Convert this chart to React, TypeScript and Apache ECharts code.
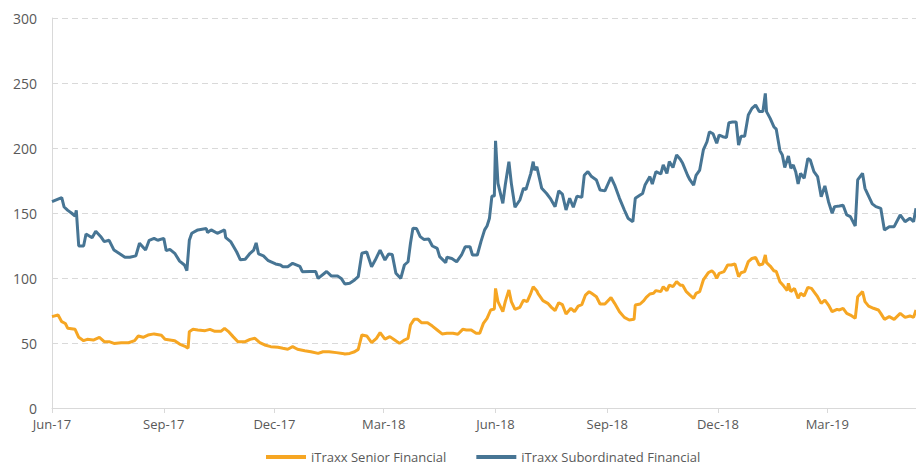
import React, { useEffect, useRef } from "react";
import * as echarts from "echarts";

const seniorName = "iTraxx Senior Financial";
const subName = "iTraxx Subordinated Financial";

const tickDates = ["2017-06-01", "2017-09-01", "2017-12-01", "2018-03-01", "2018-06-01", "2018-09-01", "2018-12-01", "2019-03-01"];
const axisStart = "2017-06-01";
const axisEnd = "2019-05-13";
const yTicks = [0, 50, 100, 150, 200, 250, 300];

const seniorDates = [
  "2017-06-01","2017-06-06","2017-06-09","2017-06-12","2017-06-14","2017-06-20","2017-06-23","2017-06-27","2017-06-30","2017-07-05",
  "2017-07-10","2017-07-14","2017-07-18","2017-07-22","2017-07-28","2017-08-03","2017-08-08","2017-08-11","2017-08-15","2017-08-19",
  "2017-08-24","2017-08-30","2017-09-02","2017-09-06","2017-09-10","2017-09-14","2017-09-19","2017-09-21","2017-09-22","2017-09-25",
  "2017-09-29","2017-10-05","2017-10-09","2017-10-13","2017-10-18","2017-10-21","2017-10-24","2017-10-28","2017-11-01","2017-11-07",
  "2017-11-11","2017-11-15","2017-11-19","2017-11-23","2017-11-28","2017-12-04","2017-12-08","2017-12-12","2017-12-16","2017-12-20",
  "2017-12-26","2017-12-31","2018-01-06","2018-01-10","2018-01-15","2018-01-21","2018-01-26","2018-01-28","2018-02-01","2018-02-05",
  "2018-02-08","2018-02-11","2018-02-15","2018-02-19","2018-02-23","2018-02-26","2018-03-02","2018-03-06","2018-03-10","2018-03-14",
  "2018-03-18","2018-03-21","2018-03-23","2018-03-26","2018-03-29","2018-04-01","2018-04-06","2018-04-10","2018-04-14","2018-04-18",
  "2018-04-22","2018-04-27","2018-05-01","2018-05-05","2018-05-08","2018-05-12","2018-05-16","2018-05-19","2018-05-22","2018-05-25",
  "2018-05-28","2018-05-31","2018-06-01","2018-06-03","2018-06-07","2018-06-09","2018-06-12","2018-06-14","2018-06-17","2018-06-21",
  "2018-06-24","2018-06-27","2018-06-30","2018-07-02","2018-07-05","2018-07-06","2018-07-10","2018-07-14","2018-07-17","2018-07-20",
  "2018-07-23","2018-07-26","2018-07-29","2018-08-02","2018-08-05","2018-08-08","2018-08-11","2018-08-14","2018-08-17","2018-08-19",
  "2018-08-23","2018-08-26","2018-08-30","2018-09-04","2018-09-07","2018-09-11","2018-09-15","2018-09-19","2018-09-23","2018-09-24",
  "2018-09-28","2018-10-01","2018-10-03","2018-10-06","2018-10-09","2018-10-11","2018-10-15","2018-10-17","2018-10-20","2018-10-22",
  "2018-10-25","2018-10-28","2018-10-31","2018-11-02","2018-11-05","2018-11-08","2018-11-11","2018-11-13","2018-11-16","2018-11-19",
  "2018-11-23","2018-11-26","2018-11-28","2018-11-30","2018-12-02","2018-12-06","2018-12-09","2018-12-12","2018-12-15","2018-12-18",
  "2018-12-20","2018-12-23","2018-12-26","2018-12-29","2019-01-01","2019-01-04","2019-01-07","2019-01-09","2019-01-10","2019-01-13",
  "2019-01-16","2019-01-18","2019-01-21","2019-01-24","2019-01-27","2019-01-28","2019-01-30","2019-02-02","2019-02-05","2019-02-07",
  "2019-02-10","2019-02-13","2019-02-16","2019-02-19","2019-02-21","2019-02-24","2019-02-27","2019-03-02","2019-03-05","2019-03-09",
  "2019-03-11","2019-03-14","2019-03-17","2019-03-20","2019-03-24","2019-03-26","2019-03-30","2019-04-01","2019-04-04","2019-04-08",
  "2019-04-12","2019-04-14","2019-04-17","2019-04-21","2019-04-25","2019-04-30","2019-05-04","2019-05-08","2019-05-11","2019-05-13"
];
const seniorValues = [
  70.3,71.5,66.4,65,61.3,60.5,54.4,51.8,52.8,52.3,
  54.4,51,51,49.7,50.2,50.2,51.8,55.4,54.4,56.1,
  57,56,52.8,52.3,51.8,49.2,47.2,46,58.7,60.5,
  60,59.5,60.5,59,59,61.3,59,54.9,51,51,
  52.8,53.6,50.3,48.5,47.2,46.7,45.9,45.2,47.2,45.2,
  44.1,43.3,42,43.3,43.3,42.6,42,41.5,42,43.3,
  45.1,56.2,55.4,50.3,53.6,58,53,54.9,52.3,49.7,
  52.3,53.6,63.8,68.2,68.2,65.6,65.6,63,60,57,
  57.5,57.5,56.7,60.5,60,60,57.5,57.5,65.1,69,
  75.4,76.2,92,81.8,74.1,81.8,90.8,81.8,75.9,77.4,
  83,81.8,88.2,93.3,90,88,82.6,80.5,77.4,75,
  81,79.5,72.3,76.7,74.1,78.4,79.5,86.9,89.5,88.2,
  85.6,80,80,84.9,80.5,74.1,69.7,67.7,68.2,79.2,
  80,82.6,85.1,87.7,88.2,90.3,89.5,93.3,90.3,94.5,
  93.3,97.2,94.5,94.5,89.5,86.9,84.4,88.2,89.5,98.5,
  104,105.6,103.6,99.7,103.6,104.9,110,110,110.8,101,
  104,104.9,112.6,115,115.8,110,110.8,117.7,111.8,109.2,
  105.6,105,97.2,94,90.3,95.9,89.5,92,84.4,88.2,
  86.2,92.8,92,88.2,85.6,80.5,83,79.2,74.1,75.9,
  75.4,76.7,72.8,71.5,69,85.6,89.5,81.8,78.4,76.7,
  75.4,72.8,68.2,70.3,68.2,72.8,69.7,70.8,69.7,75.4
];

const subDates = [
  "2017-06-01","2017-06-09","2017-06-11","2017-06-14","2017-06-17","2017-06-20","2017-06-21","2017-06-23","2017-06-27","2017-06-29",
  "2017-07-04","2017-07-07","2017-07-11","2017-07-14","2017-07-18","2017-07-22","2017-07-27","2017-07-31","2017-08-04","2017-08-09",
  "2017-08-12","2017-08-17","2017-08-20","2017-08-24","2017-08-27","2017-09-01","2017-09-03","2017-09-06","2017-09-10","2017-09-14",
  "2017-09-18","2017-09-20","2017-09-22","2017-09-24","2017-09-29","2017-10-06","2017-10-07","2017-10-10","2017-10-15","2017-10-21",
  "2017-10-22","2017-10-26","2017-10-31","2017-11-03","2017-11-07","2017-11-11","2017-11-14","2017-11-16","2017-11-18","2017-11-22",
  "2017-11-26","2017-12-02","2017-12-06","2017-12-08","2017-12-12","2017-12-16","2017-12-22","2017-12-24","2017-12-30","2018-01-04",
  "2018-01-06","2018-01-13","2018-01-17","2018-01-22","2018-01-25","2018-01-28","2018-02-01","2018-02-05","2018-02-08","2018-02-11",
  "2018-02-15","2018-02-19","2018-02-22","2018-02-26","2018-03-02","2018-03-05","2018-03-08","2018-03-11","2018-03-15","2018-03-18",
  "2018-03-21","2018-03-23","2018-03-25","2018-03-28","2018-03-31","2018-04-03","2018-04-07","2018-04-10","2018-04-14","2018-04-16",
  "2018-04-21","2018-04-22","2018-04-26","2018-04-30","2018-05-04","2018-05-07","2018-05-11","2018-05-13","2018-05-17","2018-05-20",
  "2018-05-23","2018-05-25","2018-05-27","2018-05-29","2018-05-31","2018-06-01","2018-06-03","2018-06-07","2018-06-09","2018-06-12",
  "2018-06-14","2018-06-17","2018-06-21","2018-06-24","2018-06-26","2018-06-30","2018-07-02","2018-07-03","2018-07-05","2018-07-09",
  "2018-07-13","2018-07-16","2018-07-20","2018-07-23","2018-07-26","2018-07-29","2018-08-01","2018-08-04","2018-08-07","2018-08-11",
  "2018-08-13","2018-08-16","2018-08-19","2018-08-23","2018-08-26","2018-08-30","2018-09-04","2018-09-07","2018-09-11","2018-09-15",
  "2018-09-18","2018-09-22","2018-09-24","2018-09-28","2018-09-30","2018-10-02","2018-10-06","2018-10-08","2018-10-11","2018-10-15",
  "2018-10-17","2018-10-20","2018-10-22","2018-10-25","2018-10-28","2018-10-31","2018-11-02","2018-11-06","2018-11-08","2018-11-11",
  "2018-11-13","2018-11-16","2018-11-19","2018-11-22","2018-11-24","2018-11-27","2018-11-30","2018-12-02","2018-12-05","2018-12-08",
  "2018-12-10","2018-12-13","2018-12-16","2018-12-18","2018-12-20","2018-12-23","2018-12-26","2018-12-29","2019-01-01","2019-01-04",
  "2019-01-07","2019-01-09","2019-01-10","2019-01-13","2019-01-16","2019-01-18","2019-01-21","2019-01-23","2019-01-25","2019-01-28",
  "2019-01-30","2019-02-01","2019-02-03","2019-02-05","2019-02-07","2019-02-10","2019-02-13","2019-02-15","2019-02-18","2019-02-21",
  "2019-02-24","2019-02-27","2019-03-02","2019-03-05","2019-03-07","2019-03-11","2019-03-14","2019-03-17","2019-03-20","2019-03-24",
  "2019-03-26","2019-03-30","2019-04-01","2019-04-04","2019-04-07","2019-04-10","2019-04-14","2019-04-17","2019-04-21","2019-04-25",
  "2019-04-30","2019-05-04","2019-05-08","2019-05-11","2019-05-13"
];
const subValues = [
  158.7,161.8,154.6,152,150,147.7,152,124.6,124.6,133.8,
  131,136,132,128,129,121.5,118.5,116,116,117,
  126.7,121.5,129,130.5,129,130.5,121,122,119,113,
  110,105.6,129,134.4,137,138,135,137,134.4,137,
  131,128,120,114,114.4,119,121.5,127,118.5,117,
  113.3,110.8,110,108.7,108.7,111.3,109,104.9,105,105,
  99.7,105,101.5,101.5,99.7,95.4,96,98.5,101,119,
  120,108.7,113.8,121.5,113.8,118.5,118,103.6,99.7,110,
  112.5,126.7,138.2,138,131.8,129.7,130,124.6,122.8,116.4,
  111.8,116,115,112.5,117.7,124,124,117.7,117.7,128,
  137,140,146,163,163,205.6,172.8,157.4,171.5,189.5,
  172.8,154.4,160,169,168,180.5,189.5,183,185.5,169,
  165,161.3,154.8,167,164.5,152.3,161.3,154.4,163,162,
  179,181.8,178,175.4,167.7,167,177.5,171.5,161.3,152.3,
  146,143.3,161.3,163.8,165,171.5,178,172.3,181.8,180,
  187,180.5,189.5,185,194.6,191.3,188.2,179,175.4,171.5,
  179,183,198.5,204.8,212.5,211,203.6,210,208.7,208,
  219.5,220,220,202.3,209,209,225.4,230.5,233,228,
  228,242,228,222.8,216.4,214.5,198,194.6,185,193.8,
  184.4,187,181.8,172.3,180.5,176.7,192,190.8,181.8,178,
  162.5,170.8,158.7,149.8,154.9,155.4,156,148.5,147.2,140,
  175.4,180.5,169,163,157,154.9,153.6,137,139.5,139.5,
  148.5,143.3,146,143.3,153.6
];

const ts = (d: string) => new Date(d + "T00:00:00Z").getTime();
const MONTHS = ["Jan", "Feb", "Mar", "Apr", "May", "Jun", "Jul", "Aug", "Sep", "Oct", "Nov", "Dec"];
const fmtDate = (v: number) => {
  const d = new Date(v);
  return MONTHS[d.getUTCMonth()] + "-" + String(d.getUTCFullYear()).slice(2);
};

export default function App() {
  const ref = useRef<HTMLDivElement>(null);
  useEffect(() => {
    if (!ref.current) return;
    const chart = echarts.init(ref.current, null, { renderer: "svg" });
    const tickVals = tickDates.map(ts);
    const font = "'Open Sans', 'Noto Sans', sans-serif";
    chart.setOption({
      animation: false,
      textStyle: { fontFamily: font },
      grid: { left: 52, right: 0, top: 18, bottom: 61, containLabel: false },
      legend: {
        top: 449,
        left: 261,
        padding: [0, 5],
        itemWidth: 40,
        itemHeight: 4,
        itemGap: 30,
        icon: "rect",
        textStyle: { color: "#595959", fontSize: 13, fontFamily: font, lineHeight: 16 },
        data: [seniorName, subName],
      },
      xAxis: {
        type: "value",
        min: ts(axisStart),
        max: ts(axisEnd),
        axisLine: { show: true, lineStyle: { color: "#d9d9d9", width: 1 } },
        axisTick: { show: true, customValues: tickVals, length: 5, lineStyle: { color: "#d9d9d9" } },
        axisLabel: {
          customValues: tickVals,
          formatter: (v: number) => fmtDate(v),
          color: "#595959",
          fontSize: 13,
          margin: 9,
          fontFamily: font,
        },
        splitLine: { show: false },
      },
      yAxis: {
        type: "value",
        min: yTicks[0],
        max: yTicks[yTicks.length - 1],
        interval: 50,
        axisLine: { show: true, lineStyle: { color: "#d9d9d9", width: 1 } },
        axisTick: { show: false },
        axisLabel: { color: "#595959", fontSize: 14, margin: 15, fontFamily: font },
        splitLine: { show: true, lineStyle: { color: "#d9d9d9", type: [6, 4], width: 1 } },
      },
      series: [
        {
          name: seniorName,
          type: "line",
          showSymbol: false,
          symbol: "none",
          color: "#F6A623",
          lineStyle: { width: 3, color: "#F6A623" },
          data: seniorDates.map((d, i) => [ts(d), seniorValues[i]]),
        },
        {
          name: subName,
          type: "line",
          showSymbol: false,
          symbol: "none",
          color: "#477594",
          lineStyle: { width: 3, color: "#477594" },
          data: subDates.map((d, i) => [ts(d), subValues[i]]),
        },
      ],
    });
    return () => chart.dispose();
  }, []);
  return (
    <div
      ref={ref}
      style={{ position: "fixed", left: 0, top: 0, width: 916, height: 469, background: "#fff" }}
    />
  );
}
